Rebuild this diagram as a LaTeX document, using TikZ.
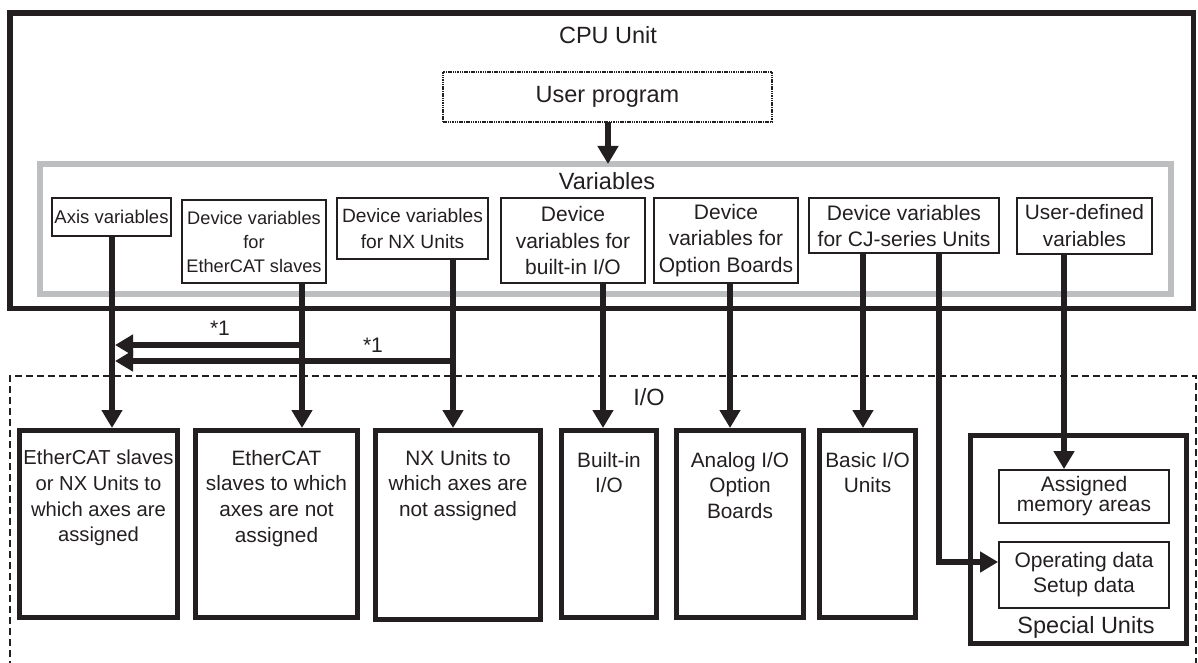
\documentclass[tikz,border=0pt]{standalone}
\usepackage{fontspec}
\setmainfont{Liberation Sans}
\usetikzlibrary{arrows.meta}
\definecolor{ink}{HTML}{231F20}
\definecolor{grayline}{HTML}{BDBEC0}
\begin{document}
\begin{tikzpicture}[x=1pt,y=-1pt,
  every node/.style={inner sep=0pt, text=ink},
  cpubox/.style={draw=ink, line width=5.5pt},
  graybox/.style={draw=grayline, line width=5.5pt, outer sep=0pt},
  progbox/.style={draw=ink, line width=2pt, dash pattern=on 1.5pt off 0.8pt, outer sep=0pt, font=\fontsize{23.5}{27}\selectfont},
  titletext/.style={font=\fontsize{23.5}{27}\selectfont},
  varbox/.style={draw=ink, line width=1.8pt, align=center},
  lowbox/.style={draw=ink, line width=5pt},
  lowtext/.style={align=center, anchor=north, font=\fontsize{20.8}{25.7}\selectfont},
  innerbox/.style={draw=ink, line width=1.8pt, align=center},
  note/.style={font=\fontsize{21}{24}\selectfont},
  iobox/.style={draw=ink, line width=2pt, dash pattern=on 7pt off 4pt},
  conn/.style={draw=ink, line width=5.5pt, -{Triangle[length=18pt,width=20pt]}},
  bar/.style={draw=ink, line width=5.5pt}
]
\useasboundingbox (0,0) rectangle (1198,663);

% CPU unit
\node[cpubox, minimum width=1183.5pt, minimum height=295.7pt] (cpu) at (601.75,160.8) {};
\node[titletext] (cput) at (608,35) {CPU Unit};
\node[progbox, minimum width=329pt, minimum height=50pt] (up) at (607.5,97) {User program};

% Variables area
\node[graybox, minimum width=1131pt, minimum height=130pt] (vars) at (605.5,229) {};
\node[titletext] (varst) at (607,181.5) {Variables};

\node[varbox, font=\fontsize{18.5}{24}\selectfont, minimum width=119pt, minimum height=38pt] (ax) at (111.5,217) {Axis variables};
\node[varbox, font=\fontsize{18.2}{24}\selectfont, minimum width=144pt, minimum height=83pt] (ecv) at (254,241.5) {Device variables\\for\\EtherCAT slaves};
\node[varbox, font=\fontsize{19.2}{26}\selectfont, minimum width=151pt, minimum height=61pt] (nxv) at (412.5,228.5) {Device variables\\for NX Units};
\node[varbox, font=\fontsize{21}{26.5}\selectfont, minimum width=144pt, minimum height=85pt] (biv) at (573,240.5) {Device\\variables for\\built-in I/O};
\node[varbox, font=\fontsize{21}{26.5}\selectfont, minimum width=144pt, minimum height=85pt] (obv) at (726,240.5) {Device\\variables for\\Option Boards};
\node[varbox, font=\fontsize{21}{26}\selectfont, minimum width=190pt, minimum height=55pt] (cjv) at (904,225.5) {Device variables\\for CJ-series Units};
\node[varbox, font=\fontsize{20.8}{27}\selectfont, minimum width=135pt, minimum height=56pt] (udv) at (1084.5,226) {User-defined\\variables};

% I/O area
\draw[iobox] (10,668) -- (10,376) -- (1196,376) -- (1196,668);
\node[titletext] (iot) at (649,397) {I/O};

\node[lowbox, minimum width=158pt, minimum height=187pt] (b1) at (98.5,524) {};
\node[lowtext, font=\fontsize{20.2}{25.7}\selectfont] (b1t) at (98.5,450) {EtherCAT slaves\\or NX Units to\\which axes are\\assigned};
\node[lowbox, minimum width=162pt, minimum height=187pt] (b2) at (276.5,524) {};
\node[lowtext] (b2t) at (276.5,450) {EtherCAT\\slaves to which\\axes are not\\assigned};
\node[lowbox, minimum width=165pt, minimum height=189pt] (b3) at (458,525) {};
\node[lowtext] (b3t) at (458,450) {NX Units to\\which axes are\\not assigned};
\node[lowbox, minimum width=95pt, minimum height=187pt] (b4) at (609,524) {};
\node[lowtext] (b4t) at (609,452) {Built-in\\I/O};
\node[lowbox, minimum width=127pt, minimum height=187pt] (b5) at (740,524) {};
\node[lowtext] (b5t) at (740,452) {Analog I/O\\Option\\Boards};
\node[lowbox, minimum width=96pt, minimum height=187pt] (b6) at (867.5,524) {};
\node[lowtext] (b6t) at (867.5,452) {Basic I/O\\Units};

\node[lowbox, minimum width=216pt, minimum height=208pt] (sp) at (1078.5,539.5) {};
\node[innerbox, font=\fontsize{21}{20}\selectfont, minimum width=170pt, minimum height=53pt] (am) at (1084,496.5) {Assigned\\memory areas};
\node[innerbox, font=\fontsize{21}{25}\selectfont, minimum width=170pt, minimum height=66pt] (od) at (1084,575) {Operating data\\Setup data};
\node[titletext] (spt) at (1086,627) {Special Units};

% column coordinates
\coordinate (xa) at (112,0);
\coordinate (xe) at (302,0);
\coordinate (xn) at (453,0);
\coordinate (xb) at (603,0);
\coordinate (xo) at (730,0);
\coordinate (xc1) at (863,0);
\coordinate (xc2) at (939,0);
\coordinate (xu) at (1064,0);
\coordinate (xp) at (608,0);
\coordinate (j1) at (302,345);
\coordinate (t1) at (115,345);
\coordinate (j2) at (453,361);
\coordinate (t2) at (115,361);
\coordinate (yod) at (0,562);

% connectors
\draw[conn] (up.south -| xp) -- (vars.north -| xp);
\draw[conn] (ax.south -| xa) -- (b1.north -| xa);
\draw[conn] (ecv.south -| xe) -- (b2.north -| xe);
\draw[conn] (nxv.south -| xn) -- (b3.north -| xn);
\draw[conn] (biv.south -| xb) -- (b4.north -| xb);
\draw[conn] (obv.south -| xo) -- (b5.north -| xo);
\draw[conn] (cjv.south -| xc1) -- (b6.north -| xc1);
\draw[conn] (cjv.south -| xc2) |- (od.west |- yod);
\draw[conn] (udv.south -| xu) -- (am.north -| xu);
\draw[conn] (j1) -- (t1);
\draw[conn] (j2) -- (t2);
\node[note] (n1) at (220,328) {*1};
\node[note] (n2) at (373,345) {*1};
\end{tikzpicture}
\end{document}
